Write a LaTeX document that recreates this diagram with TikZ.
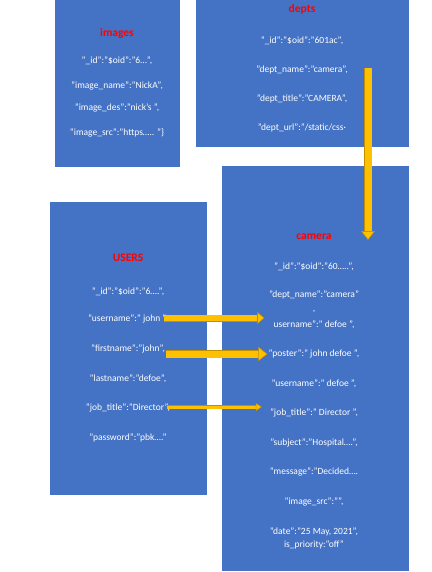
\documentclass[tikz,border=0pt]{standalone}
\usepackage{fontspec}
\setmainfont{Carlito}
\usetikzlibrary{arrows.meta,calc}
\definecolor{boxblue}{HTML}{4472C4}
\definecolor{ylw}{HTML}{FFC000}
\definecolor{ydark}{HTML}{BF9000}
\definecolor{tred}{HTML}{FF0000}
\tikzset{
  coll/.style={fill=boxblue, draw=none},
  fld/.style={text=white, font=\fontsize{9.5}{11}\selectfont, inner sep=0pt, anchor=center},
  ttl/.style={text=tred, font=\fontsize{11.5}{13}\selectfont\bfseries, inner sep=0pt, anchor=center},
  yarr/.style n args={3}{line width=#1, draw=ylw,
    -{Triangle[width=#2, length=#3, color=ydark, fill=ylw, line width=0.5pt]},
    preaction={draw=ydark, line width=#1+1pt, shorten >=#3, arrows=-}}
}
\begin{document}
\begin{tikzpicture}[x=1pt,y=-1pt]
\useasboundingbox[fill=white] (0,0) rectangle (431,572);
% boxes
\fill[coll] (55,0) rectangle (180,167);
\fill[coll] (196,0) rectangle (409,147);
\fill[coll] (50,202) rectangle (207,495);
\fill[coll] (222,166) rectangle (409,571);
% images
\node[ttl] (it) at (117,33) {images};
\node[fld] (i1) at (117,61) {"\_id":"\$oid":"6…",};
\node[fld] (i2) at (117,86) {"image\_name":"NickA",};
\node[fld] (i3) at (117,108) {"image\_des":"nick's ",};
\node[fld] (i4) at (117,133) {"image\_src":"https….. "\}};
% depts
\node[ttl] (dt) at (302,9) {depts};
\node[fld] (d1) at (302,41) {"\_id":"\$oid":"601ac",};
\node[fld] (d2) at (302,70) {"dept\_name":"camera",};
\node[fld] (d3) at (302,99) {"dept\_title":"CAMERA",};
\node[fld] (d4) at (302,128) {"dept\_url":"/static/css·};
% users
\node[ttl] (ut) at (128,258) {USERS};
\node[fld] (u1) at (128,292) {"\_id":"\$oid":"6….",};
\node[fld] (u2) at (128,319) {"username":" john ",};
\node[fld] (u3) at (128,349) {"firstname":"john",};
\node[fld] (u4) at (128,379) {"lastname":"defoe",};
\node[fld] (u5) at (128,408) {"job\_title":"Director",};
\node[fld] (u6) at (128,438) {"password":"pbk…."};
% camera
\node[ttl] (ct) at (314,237) {camera};
\node[fld] (c1) at (314,267) {"\_id":"\$oid":"60…..",};
\node[fld] (c2) at (314,295) {"dept\_name":"camera"};
\node[fld] (c2b) at (314,312) {,};
\node[fld] (c3) at (314,325) {username":" defoe ",};
\node[fld] (c4) at (314,354) {"poster":" john defoe ",};
\node[fld] (c5) at (314,384) {"username":" defoe ",};
\node[fld] (c6) at (314,413) {"job\_title":" Director ",};
\node[fld] (c7) at (314,443) {"subject":"Hospital….",};
\node[fld] (c8) at (314,472) {"message":"Decided….};
\node[fld] (c9) at (314,502) {"image\_src":"",};
\node[fld] (c10) at (314,532) {"date":"25 May, 2021",};
\node[fld] (c11) at (314,545) {is\_priority:"off"};
% arrows
\coordinate (vs) at (368,68);
\coordinate (ve) at (368,240);
\draw[yarr={7pt}{14pt}{9pt}] (vs) -- (ve);
\draw[yarr={6pt}{12pt}{7pt}] ($(u2.east)+(-4,-1)$) -- ($(u2.east -| c3.west)+(-9,-1)$);
\draw[yarr={7pt}{14pt}{9pt}] ($(u3.east |- c4.west)+(1,0)$) -- ($(c4.west)+(-1,0)$);
\draw[yarr={3pt}{8pt}{6pt}] ($(u5.east)+(-3,-1)$) -- ($(u5.east -| c6.west)+(-8,-1)$);
\end{tikzpicture}
\end{document}
